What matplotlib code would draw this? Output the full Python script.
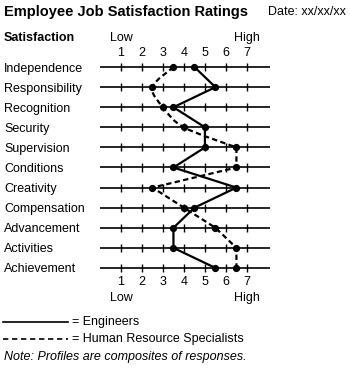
import numpy as np
import matplotlib
matplotlib.use('Agg')
import matplotlib.pyplot as plt
from matplotlib.path import Path
from matplotlib.patches import PathPatch
import matplotlib.transforms as mtransforms

plt.rcParams['font.family'] = ['Liberation Sans', 'DejaVu Sans']

# Data
categories = ['Independence', 'Responsibility', 'Recognition', 'Security', 'Supervision',
              'Conditions', 'Creativity', 'Compensation', 'Advancement', 'Activities',
              'Achievement']
engineers = [4.5, 5.5, 3.5, 5, 5, 3.5, 6.5, 4.5, 3.5, 3.5, 5.5]
hr_specialists = [3.5, 2.5, 3, 4, 6.5, 6.5, 2.5, 4, 5.5, 6.5, 6.5]
scale_ticks = [1, 2, 3, 4, 5, 6, 7]
n_smooth = 5  # HR profile is drawn as a smooth curve over the first rows

fig = plt.figure(figsize=(3.5, 3.7), dpi=100)
W, H = 350, 370
# axes: x 0..8.1 maps to px 100..270, rows 0..10 map to px 67..268
ax = fig.add_axes([100 / W, (H - 278) / H, 170 / W, 221 / H])
ax.set_xlim(0, 8.1)
ax.set_ylim(10.5, -0.5)
ax.axis('off')

rows = np.arange(len(categories))

# row lines and scale ticks
ax.hlines(rows, 0, 8.1, color='black', lw=1.2)
tx, ty = np.meshgrid(scale_ticks, rows)
ax.vlines(tx.ravel(), ty.ravel() - 0.2, ty.ravel() + 0.2, color='black', lw=1.0)

# engineers profile
ax.plot(engineers, rows, color='black', lw=1.6, marker='o', ms=4.2, clip_on=False)

# HR profile: catmull-rom bezier for the first rows, straight afterwards
pts = np.column_stack([hr_specialists, rows]).astype(float)
verts = [pts[0]]
codes = [Path.MOVETO]
for i in range(n_smooth - 1):
    p_prev = pts[max(i - 1, 0)]
    p0, p1 = pts[i], pts[i + 1]
    p_next = pts[min(i + 2, n_smooth - 1)]
    c1 = p0 + (p1 - p_prev) / 6
    c2 = p1 - (p_next - p0) / 6
    verts += [c1, c2, p1]
    codes += [Path.CURVE4] * 3
for p in pts[n_smooth:]:
    verts.append(p)
    codes.append(Path.LINETO)
ax.add_patch(PathPatch(Path(verts, codes), fill=False, edgecolor='black', lw=1.6,
                       linestyle=(0, (2.4, 1.5)), clip_on=False))
ax.plot(hr_specialists, rows, linestyle='none', color='black', marker='o', ms=4.2,
        clip_on=False)

# scale numbers top and bottom
fs = 9
for t in scale_ticks:
    ax.text(t, -0.72, str(t), ha='center', va='center', fontsize=fs)
    ax.text(t, 10.72, str(t), ha='center', va='center', fontsize=fs)
ax.text(1, -1.45, 'Low', ha='center', va='center', fontsize=fs)
ax.text(7, -1.45, 'High', ha='center', va='center', fontsize=fs)
ax.text(1, 11.5, 'Low', ha='center', va='center', fontsize=fs)
ax.text(7, 11.5, 'High', ha='center', va='center', fontsize=fs)

# category labels
trans = mtransforms.blended_transform_factory(fig.transFigure, ax.transData)
for r, name in zip(rows, categories):
    fig.text(4 / W, r, name, transform=trans, ha='left', va='center_baseline', fontsize=fs)
fig.text(4 / W, 1 - 38 / H, 'Satisfaction', ha='left', va='center', fontsize=fs,
         fontweight='bold')

# title and date
fig.text(4 / W, 1 - 12 / H, 'Employee Job Satisfaction Ratings', ha='left', va='center',
         fontsize=10.5, fontweight='bold')
fig.text(346 / W, 1 - 12 / H, 'Date: xx/xx/xx', ha='right', va='center', fontsize=fs)

# legend
fig.add_artist(plt.Line2D([3 / W, 68 / W], [1 - 322 / H, 1 - 322 / H], color='black', lw=1.2))
fig.add_artist(plt.Line2D([3 / W, 68 / W], [1 - 339 / H, 1 - 339 / H], color='black', lw=1.2,
                          linestyle=(0, (3.2, 2.2))))
fig.text(72 / W, 1 - 322 / H, '= Engineers', ha='left', va='center', fontsize=fs)
fig.text(72 / W, 1 - 339 / H, '= Human Resource Specialists', ha='left', va='center',
         fontsize=fs)
fig.text(4 / W, 1 - 357 / H, 'Note: Profiles are composites of responses.', ha='left',
         va='center', fontsize=fs, style='italic')

fig.savefig('out.png', dpi=100)
